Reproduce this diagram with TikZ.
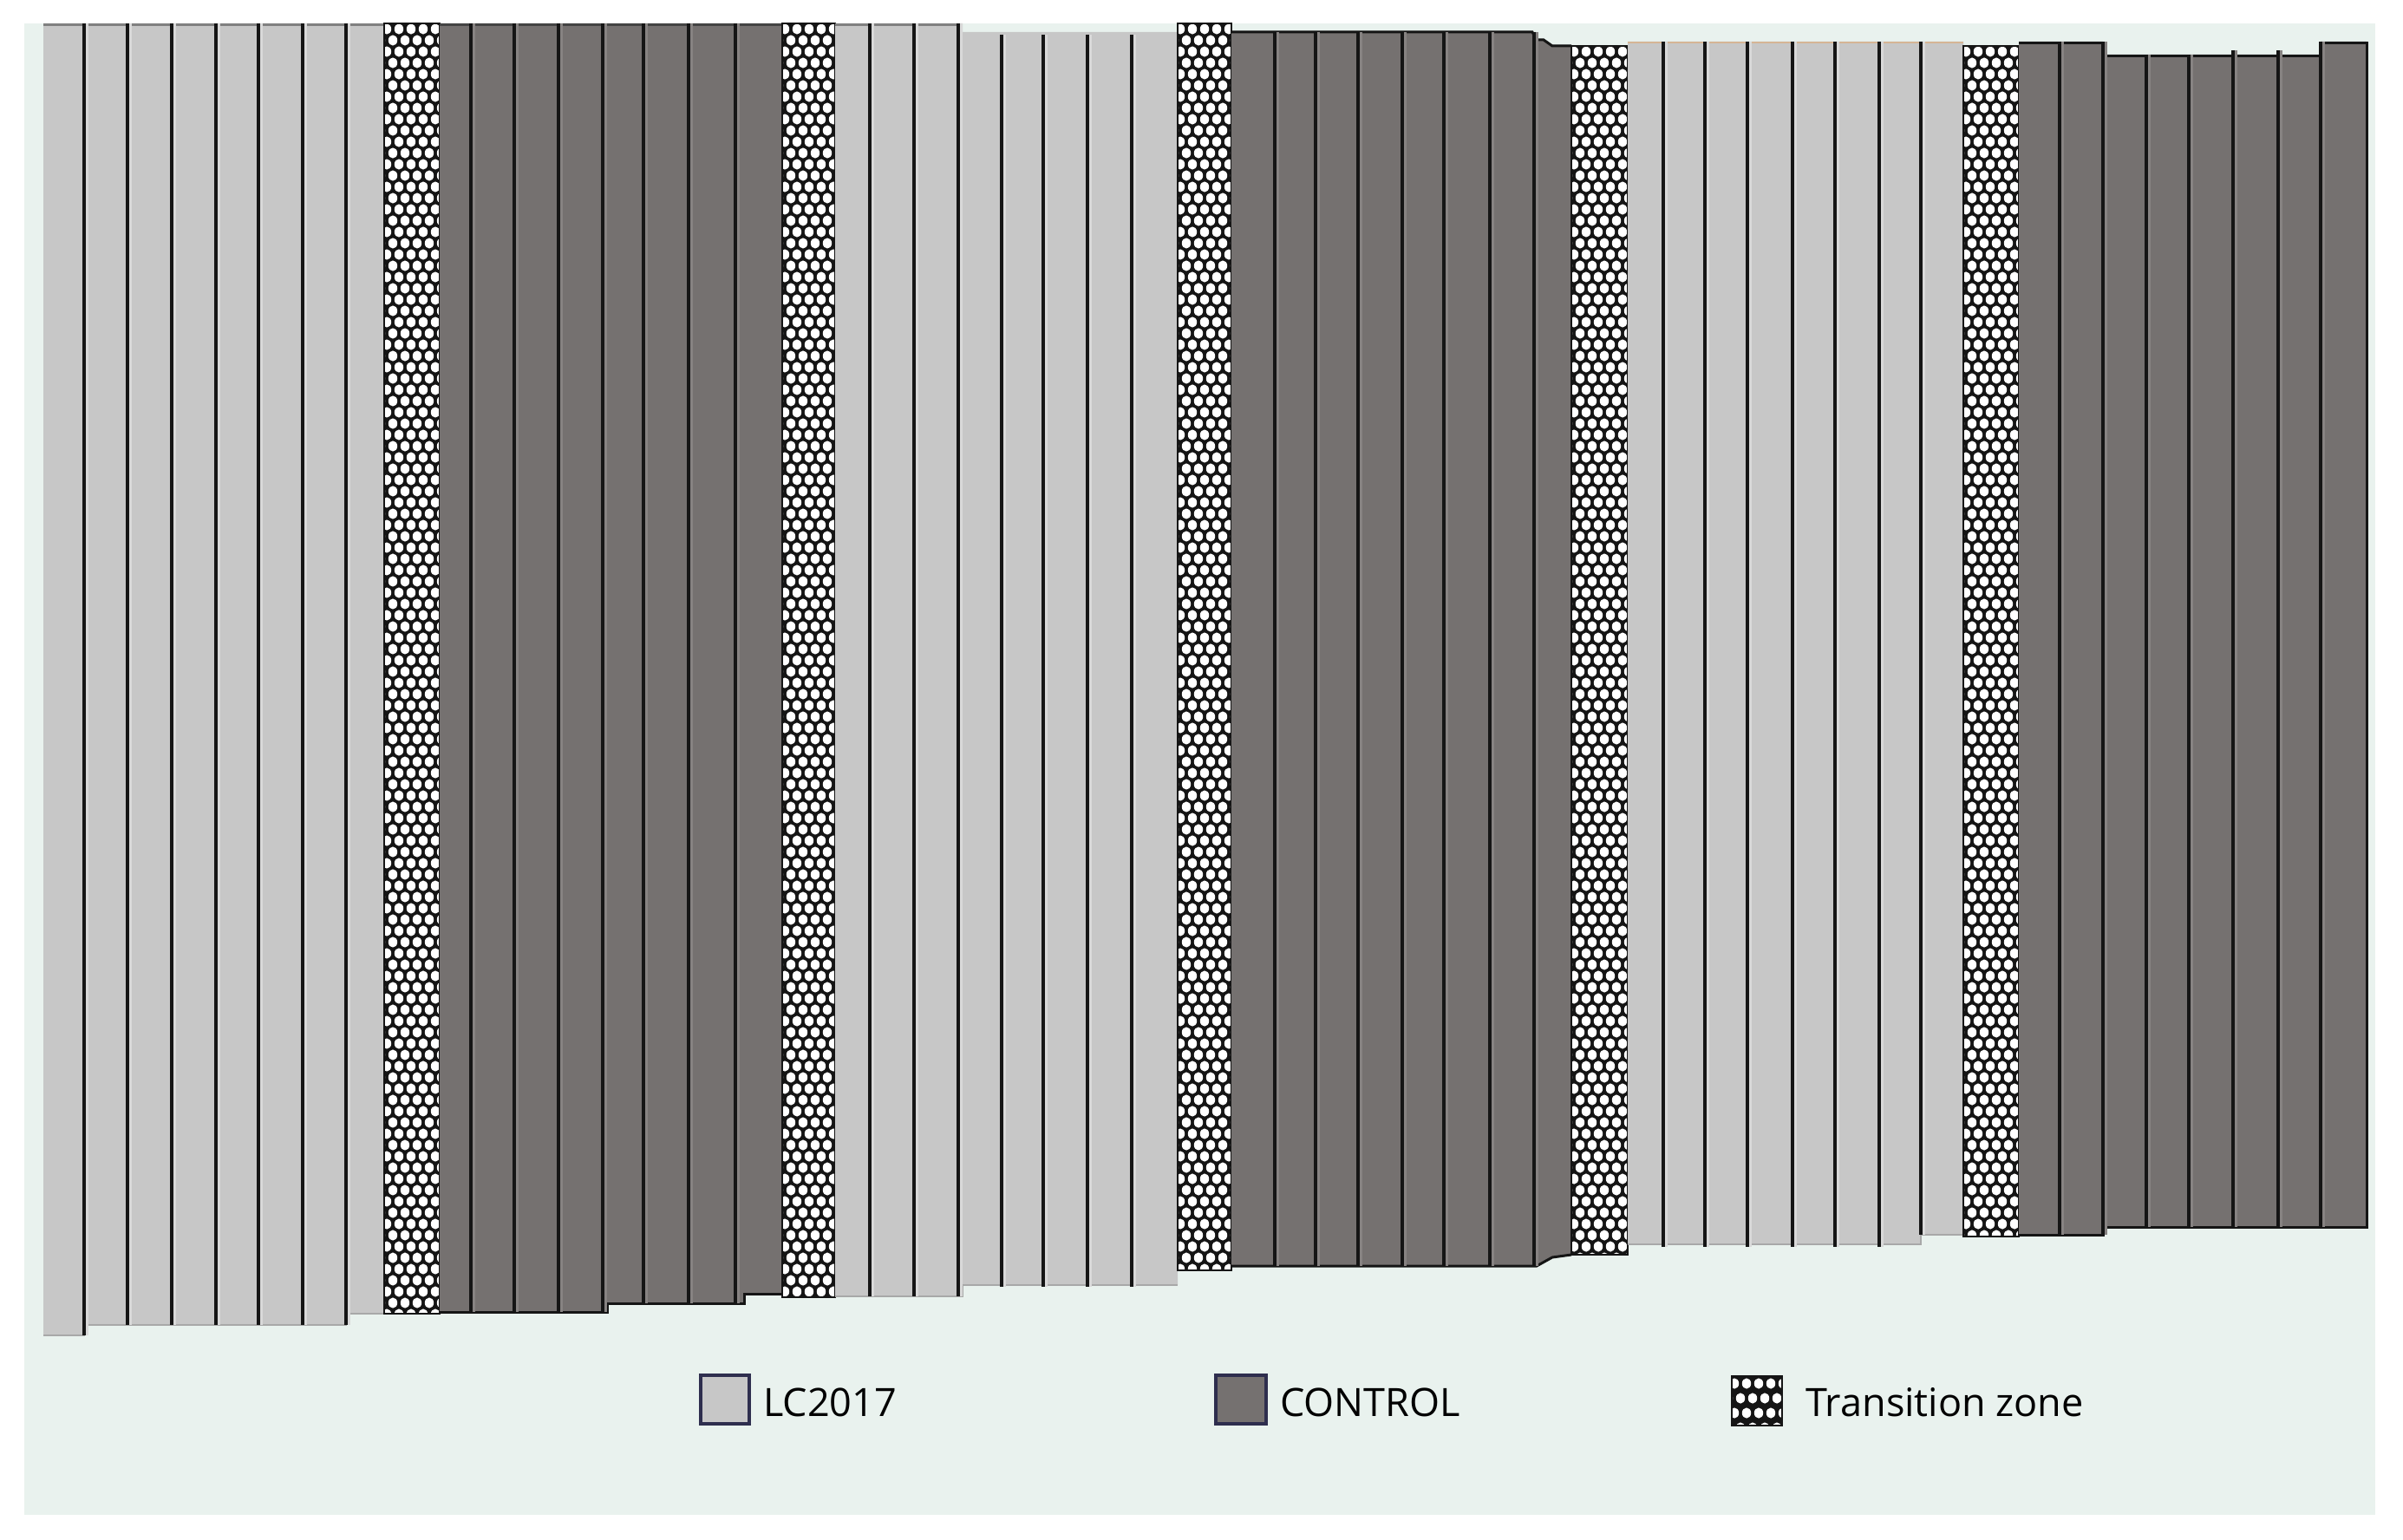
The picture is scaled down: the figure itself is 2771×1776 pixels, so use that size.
\documentclass[tikz,border=0pt]{standalone}
\usepackage{fontspec}
\setmainfont{Open Sans}
\definecolor{panel}{HTML}{E9F2EE}
\definecolor{lightbar}{HTML}{C7C7C7}
\definecolor{darkbar}{HTML}{757170}
\definecolor{navy}{HTML}{2E2E4E}
\definecolor{tzblack}{HTML}{151515}
\definecolor{lighthi}{HTML}{D9D9D9}
\definecolor{darkhi}{HTML}{878382}
\definecolor{lightedge}{HTML}{A8A8A8}
\definecolor{topgray}{HTML}{808080}

\newcommand\tzgen[6]{%
 \begin{scope}
 \clip (#1,#2) rectangle (#3,#4);
 \fill[tzblack] (#1,#2) rectangle (#3,#4);
 \pgfmathtruncatemacro\tzN{(#4-#2)/#6+1}
 \pgfmathtruncatemacro\tzM{(#3-#1)/#5+1}
 \foreach \r in {0,...,\tzN}{%
   \pgfmathsetmacro\tzoff{mod(\r,2)*#5/2}
   \foreach \c in {-1,...,\tzM}{%
     \fill[white] ({#1+3+\tzoff+\c*#5},{#2+#6/2+\r*#6}) ellipse [x radius=5.2pt, y radius=6.1pt];
   }
 }
 \end{scope}
 \draw[tzblack, line width=2.5pt] (#1,#2) rectangle (#3,#4);
}
\newcommand\vlL[3]{\fill[lighthi] ({#1+2.2},#2) rectangle ({#1+5},#3); \draw[vline] (#1,#2) -- (#1,#3);}
\newcommand\vlD[3]{\fill[darkhi] ({#1+2.2},#2) rectangle ({#1+5},#3); \draw[vline] (#1,#2) -- (#1,#3);}

\begin{document}
\begin{tikzpicture}[x=1pt,y=-1pt,
  vline/.style={draw=tzblack, line width=4.3pt},
  lightgrp/.style={fill=lightbar},
  darkgrp/.style={fill=darkbar},
  darkedge/.style={draw=tzblack, line width=3pt},
  litedge/.style={draw=lightedge, line width=2.5pt},
  legtext/.style={anchor=base west, inner sep=0pt, font=\fontsize{45}{54}\selectfont, text=black},
  legbox/.style={draw=navy, line width=4pt}]
\useasboundingbox (0,0) rectangle (2771,1776);
\fill[white] (0,0) rectangle (2771,1776);
\fill[panel] (28,27) rectangle (2739,1747);

% ---------- Group A (LC2017) ----------
\fill[lightgrp] (50,27) -- (443,27) -- (443,1515) -- (399,1515) -- (399,1528) -- (97,1528) -- (97,1540) -- (50,1540) -- cycle;
\draw[litedge] (50,1540) -- (97,1540) -- (97,1528) -- (399,1528) -- (399,1515) -- (443,1515);
\draw[draw=topgray, line width=3pt] (50,28.5) -- (443,28.5);
\vlL{97}{27}{1540}
\foreach \xx in {147,198,249,298,349,399}{\vlL{\xx}{27}{1528}}

% ---------- T1 ----------
\tzgen{443}{27}{507}{1515}{14}{13}

% ---------- Group B (CONTROL) ----------
\fill[darkgrp] (507,27) -- (902,27) -- (902,1492) -- (858,1492) -- (858,1503) -- (700,1503) -- (700,1513) -- (507,1513) -- cycle;
\draw[darkedge] (507,1513) -- (700,1513) -- (700,1503) -- (858,1503) -- (858,1492) -- (902,1492);
\draw[draw=tzblack!80, line width=3pt] (507,28.5) -- (902,28.5);
\foreach \xx in {543,593,644,695}{\vlD{\xx}{27}{1513}}
\foreach \xx in {742,794,848}{\vlD{\xx}{27}{1503}}

% ---------- T2 ----------
\tzgen{902}{27}{963}{1496}{14}{13}

% ---------- Group C (LC2017) ----------
\fill[lightgrp] (963,27) -- (1110,27) -- (1110,37) -- (1358,37) -- (1358,1482) -- (1110,1482) -- (1110,1495) -- (963,1495) -- cycle;
\draw[litedge] (963,1495) -- (1110,1495) -- (1110,1482) -- (1358,1482);
\draw[draw=topgray, line width=3pt] (963,28.5) -- (1110,28.5);
\foreach \xx in {1003,1054,1105}{\vlL{\xx}{27}{1495}}
\foreach \xx in {1155,1203,1254,1305}{\vlL{\xx}{40}{1484}}

% ---------- T3 ----------
\tzgen{1358}{27}{1420}{1465}{14}{13}

% ---------- Group D (CONTROL) ----------
\fill[darkgrp] (1420,36) -- (1767,36) -- (1772,45) -- (1780,45) -- (1790,52) -- (1812,52) -- (1812,1447) -- (1790,1450) -- (1772,1460) -- (1420,1460) -- cycle;
\draw[darkedge] (1420,37) -- (1767,37) -- (1772,46) -- (1780,46) -- (1790,53) -- (1812,53);
\draw[darkedge] (1420,1460) -- (1772,1460) -- (1790,1450) -- (1812,1447);
\foreach \xx in {1470,1517,1566,1617,1665,1718,1769}{\vlD{\xx}{37}{1460}}

% ---------- T4 ----------
\tzgen{1812}{53}{1877}{1447}{14}{13}

% ---------- Group E (LC2017) ----------
\fill[lightgrp] (1877,48) -- (2264,48) -- (2264,1424) -- (2215,1424) -- (2215,1435) -- (1877,1435) -- cycle;
\draw[litedge] (1877,1435) -- (2215,1435) -- (2215,1424) -- (2264,1424);
\draw[draw=orange!25!lightbar, line width=2pt] (1877,49) -- (2264,49);
\foreach \xx in {1918,1966,2015,2067,2116,2167}{\vlL{\xx}{48}{1438}}
\vlL{2215}{48}{1424}

% ---------- T5 ----------
\tzgen{2264}{53}{2328}{1426}{14}{13}

% ---------- Group F (CONTROL) ----------
\fill[darkgrp] (2328,48) -- (2425,48) -- (2425,63) -- (2676,63) -- (2676,48) -- (2729,48) -- (2729,1415) -- (2425,1415) -- (2425,1424) -- (2328,1424) -- cycle;
\draw[darkedge] (2328,49.5) -- (2425,49.5) -- (2425,64.5) -- (2676,64.5) -- (2676,49.5) -- (2729,49.5) -- (2729,1415) -- (2425,1415) -- (2425,1424) -- (2328,1424);
\foreach \xx in {2375,2425}{\vlD{\xx}{48}{1424}}
\foreach \xx in {2475,2524}{\vlD{\xx}{63}{1415}}
\foreach \xx in {2575,2627}{\vlD{\xx}{58}{1415}}
\vlD{2676}{48}{1415}

% ---------- Legend ----------
\filldraw[legbox, fill=lightbar] (808,1586) rectangle (864,1642);
\node[legtext] (lblLC) at (880,1633) {LC2017};
\filldraw[legbox, fill=darkbar] (1402,1586) rectangle (1460,1642);
\node[legtext] (lblCT) at (1476,1633) {CONTROL};
\tzgen{1997}{1587}{2055}{1644}{14}{17}
\node[legtext] (lblTZ) at (2082,1633) {Transition zone};
\end{tikzpicture}
\end{document}
